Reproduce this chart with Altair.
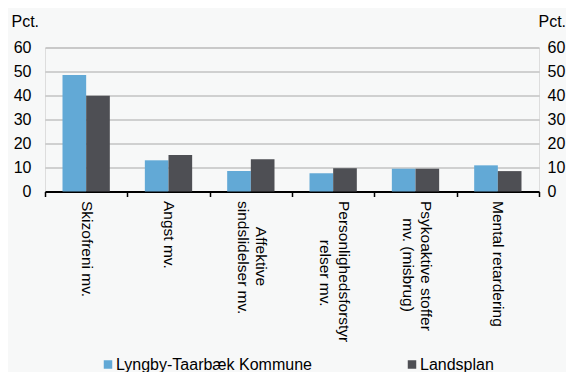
import altair as alt
import pandas as pd

categories = ["Skizofreni mv.", "Angst mv.", "Affektive sindslidelser mv.",
              "Personlighedsforstyrrelser mv.", "Psykoaktive stoffer mv. (misbrug)",
              "Mental retardering"]
label_lines = [["Skizofreni mv."], ["Angst mv."], ["Affektive", "sindslidelser mv."],
               ["Personlighedsforstyr", "relser mv."], ["Psykoaktive stoffer", "mv. (misbrug)"],
               ["Mental retardering"]]
series = ["Lyngby-Taarbæk Kommune", "Landsplan"]
lyngby = [48.5, 13.0, 8.5, 7.6, 9.5, 10.9]
landsplan = [39.9, 15.2, 13.4, 9.7, 9.5, 8.5]
colors = ["#62a9d6", "#4e4f54"]

# approximate centring of shorter lines (Arial widths, in 1/1000 em)
W = {c: 556 for c in "abcdeghnopquy0123456789"}
W.update({"f": 278, "i": 222, "j": 222, "k": 500, "l": 222, "m": 833, "r": 333, "s": 500,
          "t": 278, "v": 500, "w": 722, "x": 500, "z": 500, " ": 278, ".": 278, "(": 333,
          ")": 333, "A": 667, "P": 667, "S": 667, "M": 833})
def tw(s):
    return sum(W.get(ch, 556) for ch in s)

padded = []
for lines in label_lines:
    m = max(tw(l) for l in lines)
    out = []
    for l in lines:
        n = int(round((m - tw(l)) / 2 / 278))
        out.append(("\u200b" + "\u00a0" * n + l) if n > 0 else l)
    padded.append(out)

expr = ""
for cat, lines in zip(categories, padded):
    arr = "[" + ",".join("'" + l + "'" for l in lines) + "]"
    expr += f"datum.label == '{cat}' ? {arr} : "
expr += "datum.label"

multi = [c for c, l in zip(categories, label_lines) if len(l) > 1]
multi_test = "indexof([" + ",".join("'" + c + "'" for c in multi) + "], datum.value) >= 0"

rows = []
for i, c in enumerate(categories):
    rows.append({"kategori": c, "serie": series[0], "pct": lyngby[i]})
    rows.append({"kategori": c, "serie": series[1], "pct": landsplan[i]})
df = pd.DataFrame(rows)

FONT = "Liberation Sans"

x = alt.X("kategori:N", sort=categories, title=None,
          scale=alt.Scale(paddingInner=0, paddingOuter=0),
          axis=alt.Axis(labelAngle=90, labelAlign="left",
                        labelBaseline={"condition": {"test": multi_test, "value": "line-bottom"},
                                       "value": "middle"},
                        labelExpr=expr, labelFontSize=15.5, labelColor="#000000",
                        labelPadding=4, labelLineHeight=18.5, labelLimit=400,
                        tickBand="extent", tickSize=5, tickColor="#000000", tickWidth=1.5,
                        domainColor="#000000", domainWidth=2, grid=False))
xo = alt.XOffset("serie:N", sort=series,
                 scale=alt.Scale(paddingOuter=0.74, paddingInner=0))
color = alt.Color("serie:N", sort=series,
                  scale=alt.Scale(domain=series, range=colors),
                  legend=alt.Legend(title=None, orient="none", direction="horizontal",
                                    legendX=55, legendY=309, symbolType="square",
                                    symbolSize=72, symbolStrokeWidth=0,
                                    labelFontSize=16, labelColor="#000000", labelOffset=0,
                                    columnPadding=92, labelLimit=400, padding=0))

left = alt.Chart(df).mark_bar().encode(
    x=x, xOffset=xo, color=color,
    y=alt.Y("pct:Q", scale=alt.Scale(domain=[0, 60]),
            axis=alt.Axis(orient="left", values=[0, 10, 20, 30, 40, 50, 60],
                          title="Pct.", titleAngle=0, titleAlign="left",
                          titleBaseline="alphabetic", titleX=-34, titleY=-21.5,
                          titleFontSize=16, titleFontWeight="normal", titleColor="#000000",
                          labelFontSize=16, labelColor="#000000", labelPadding=14,
                          domain=False, ticks=False, grid=True,
                          gridColor="#a8a8a8", gridWidth=1)),
)

right = alt.Chart(df).mark_bar(opacity=0).encode(
    x=x, xOffset=xo,
    y=alt.Y("pct:Q", scale=alt.Scale(domain=[0, 60]),
            axis=alt.Axis(orient="right", values=[0, 10, 20, 30, 40, 50, 60],
                          title="Pct.", titleAngle=0, titleAlign="left",
                          titleBaseline="alphabetic", titleX=-1, titleY=-21.5,
                          titleFontSize=16, titleFontWeight="normal", titleColor="#000000",
                          labelFontSize=16, labelColor="#000000", labelPadding=8,
                          domain=False, ticks=False, grid=False)),
)

chart = alt.layer(left, right).resolve_axis(y="independent").properties(
    width=494, height=144,
    autosize=alt.AutoSizeParams(type="none"),
    padding={"left": 37, "top": 39.5, "right": 27, "bottom": 180.5},
    background="#f7f8f8",
).configure_view(stroke=None).configure(font=FONT)

chart.save("out.html", embed_options={"renderer": "svg", "actions": False})
